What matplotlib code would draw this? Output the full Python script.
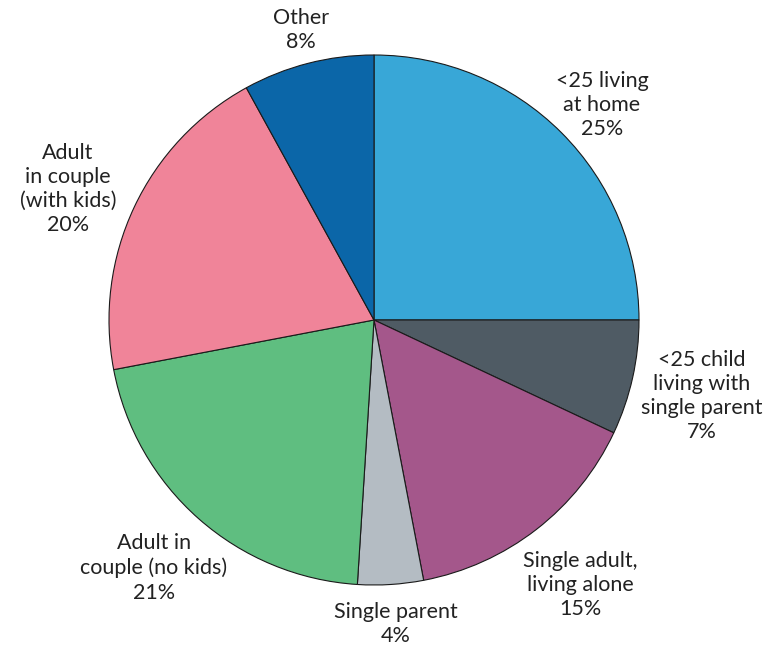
import matplotlib
matplotlib.use("Agg")
import matplotlib.pyplot as plt

# Data
labels = ["<25 living\nat home", "<25 child\nliving with\nsingle parent", "Single adult,\nliving alone",
          "Single parent", "Adult in\ncouple (no kids)", "Adult\nin couple\n(with kids)", "Other"]
shares = [25, 7, 15, 4, 21, 20, 8]
colors = ["#38a7d7", "#4f5b64", "#a4578b", "#b4bcc3", "#5fbe80", "#f08499", "#0b66a8"]

# label anchor points in pixel coordinates (x, y from top)
label_pos = [(602, 105), (702, 396), (580, 585), (396, 624), (154, 568), (68, 189), (301, 30)]

W, H = 775, 647
fig = plt.figure(figsize=(W / 100, H / 100), dpi=100)
ax = fig.add_axes([0, 0, 1, 1])

cx, cy, r = 374, H - 320, 265
ax.pie(shares, colors=colors, startangle=90, counterclock=False, radius=r, center=(cx, cy),
       wedgeprops=dict(edgecolor="#1a1a1a", linewidth=0.8), frame=True)
ax.set_xlim(0, W)
ax.set_ylim(0, H)
ax.set_aspect("equal")
ax.axis("off")

for lab, val, (x, y) in zip(labels, shares, label_pos):
    ax.text(x, H - y, f"{lab}\n{val}%", ha="center", va="center", fontsize=15.5,
            family="Lato", color="#222222", linespacing=1.27)

fig.savefig("out.png", dpi=100)
